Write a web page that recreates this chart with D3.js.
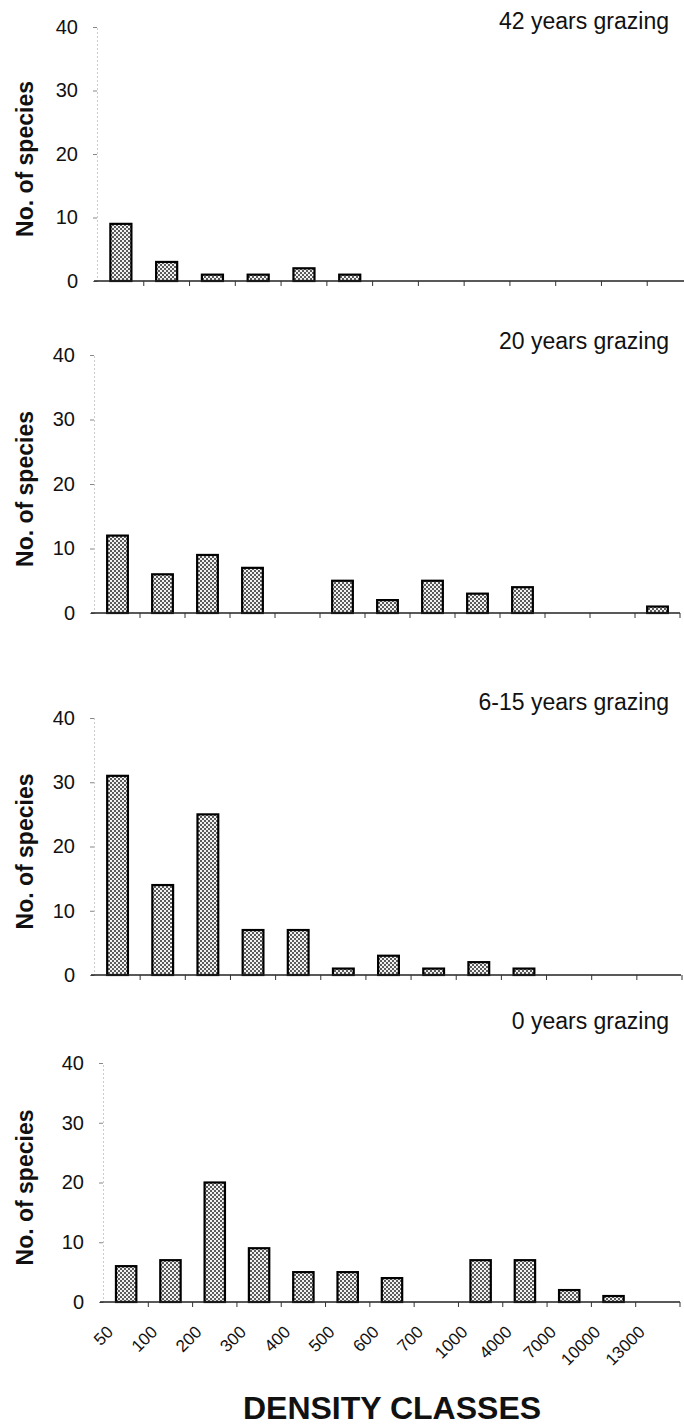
<!DOCTYPE html>
<html>
<head>
<meta charset="utf-8">
<script src="https://cdn.jsdelivr.net/npm/d3@7"></script>
<style>
body { margin: 0; background: #fff; }
svg text { font-family: "Liberation Sans", Arial, Helvetica, sans-serif; fill: #111; }
</style>
</head>
<body>
<svg id="chart" width="684" height="1427"></svg>
<script>
// density classes on the x axis
var categories = ["50", "100", "200", "300", "400", "500", "600", "700",
		  "1000", "4000", "7000", "10000", "13000"]

// no. of species per density class, one array per grazing history
var grazing42 = [9, 3, 1, 1, 2, 1, 0, 0, 0, 0, 0, 0, 0]
var grazing20 = [12, 6, 9, 7, 0, 5, 2, 5, 3, 4, 0, 0, 1]
var grazing6to15 = [31, 14, 25, 7, 7, 1, 3, 1, 2, 1, 0, 0, 0]
var grazing0 = [6, 7, 20, 9, 5, 5, 4, 0, 7, 7, 2, 1, 0]

var panelTitles = ["42 years grazing", "20 years grazing",
		   "6-15 years grazing", "0 years grazing"]
var yTicks = [0, 10, 20, 30, 40]
var yMax = 40

var svg = d3.select('#chart')

// stippled fill like the printed bars
var pat = svg.append('defs').append('pattern')
    .attr('id', 'stipple')
    .attr('width', 4)
    .attr('height', 4)
    .attr('patternUnits', 'userSpaceOnUse')
pat.append('rect')
    .attr('width', 4)
    .attr('height', 4)
    .attr('fill', '#f2f2f2')
pat.append('circle').attr('cx', 1).attr('cy', 1).attr('r', 0.95).attr('fill', '#1a1a1a')
pat.append('circle').attr('cx', 3).attr('cy', 3).attr('r', 0.95).attr('fill', '#1a1a1a')

// where each panel sits on the page
var panels = [
    {values: grazing42, x0: 98, x1: 693, base: 281, top: 27, titleY: 29, axisEnd: 684},
    {values: grazing20, x0: 95, x1: 680, base: 613, top: 355, titleY: 349, axisEnd: 680},
    {values: grazing6to15, x0: 95, x1: 682, base: 975, top: 718, titleY: 710, axisEnd: 681},
    {values: grazing0, x0: 104, x1: 680, base: 1302, top: 1063, titleY: 1029, axisEnd: 680}
]

function drawPanel(p, i) {
    var g = svg.append('g').attr('class', 'panel')

    var xScale = d3.scaleBand()
	.domain(categories)
	.range([p.x0, p.x1])
	.paddingInner(0.54)
	.paddingOuter(0.27)

    var yScale = d3.scaleLinear()
	.domain([0, yMax])
	.range([p.base, p.top])

    var step = xScale.step()

    // y axis, faint and dotted as in the scan
    var yAxis = g.append('g')
	.attr('transform', 'translate(' + (p.x0 - 1) + ',0)')
	.call(d3.axisLeft(yScale)
	      .tickValues(yTicks)
	      .tickSize(4)
	      .tickSizeOuter(0)
	      .tickPadding(15))
    yAxis.select('.domain')
	.attr('stroke', '#999')
	.attr('stroke-dasharray', '1,3')
    yAxis.selectAll('.tick line').attr('stroke', '#888')
    yAxis.selectAll('.tick text')
	.attr('font-size', 20)
	.attr('fill', '#111')

    // bars
    g.selectAll('rect.bar')
	.data(p.values.map(function(v, j){return [categories[j], v]})
	      .filter(function(d){return d[1] > 0}))
	.enter()
	.append('rect')
	.attr('class', 'bar')
	.attr('x', function(d){return xScale(d[0])})
	.attr('y', function(d){return yScale(d[1])})
	.attr('width', xScale.bandwidth())
	.attr('height', function(d){return p.base - yScale(d[1])})
	.attr('fill', 'url(#stipple)')
	.attr('stroke', '#000')
	.attr('stroke-width', 2.2)

    // x axis line and ticks between classes
    g.append('line')
	.attr('x1', p.x0 - 4)
	.attr('x2', p.axisEnd)
	.attr('y1', p.base)
	.attr('y2', p.base)
	.attr('stroke', '#222')
	.attr('stroke-width', 1.5)

    g.selectAll('line.xtick')
	.data(categories)
	.enter()
	.append('line')
	.attr('class', 'xtick')
	.attr('x1', function(d){return xScale(d) + xScale.bandwidth() + (step - xScale.bandwidth()) / 2})
	.attr('x2', function(d){return xScale(d) + xScale.bandwidth() + (step - xScale.bandwidth()) / 2})
	.attr('y1', p.base)
	.attr('y2', p.base + 5)
	.attr('stroke', '#333')
	.attr('stroke-width', 1)

    // panel title, top right
    g.append('text')
	.attr('x', 669)
	.attr('y', p.titleY)
	.attr('text-anchor', 'end')
	.attr('font-size', 23)
	.text(panelTitles[i])

    // y axis title
    g.append('text')
	.attr('transform', 'translate(25,' + ((p.base + p.top) / 2 + 5) + ') rotate(-90)')
	.attr('text-anchor', 'middle')
	.attr('dy', '0.36em')
	.attr('font-size', 23)
	.attr('font-weight', 'bold')
	.text('No. of species')

    // class labels only under the last panel
    if (i == panels.length - 1) {
	g.selectAll('text.xlab')
	    .data(categories)
	    .enter()
	    .append('text')
	    .attr('class', 'xlab')
	    .attr('transform', function(d){
		var cx = xScale(d) + xScale.bandwidth() / 2
		return 'translate(' + (cx - 12) + ',' + (p.base + 31) + ') rotate(-45)'})
	    .attr('text-anchor', 'end')
	    .attr('font-size', 17)
	    .text(function(d){return d})
    }
}

panels.forEach(drawPanel)

svg.append('text')
    .attr('x', 392)
    .attr('y', 1419)
    .attr('text-anchor', 'middle')
    .attr('font-size', 32)
    .attr('font-weight', 'bold')
    .text('DENSITY CLASSES')
</script>
</body>
</html>
